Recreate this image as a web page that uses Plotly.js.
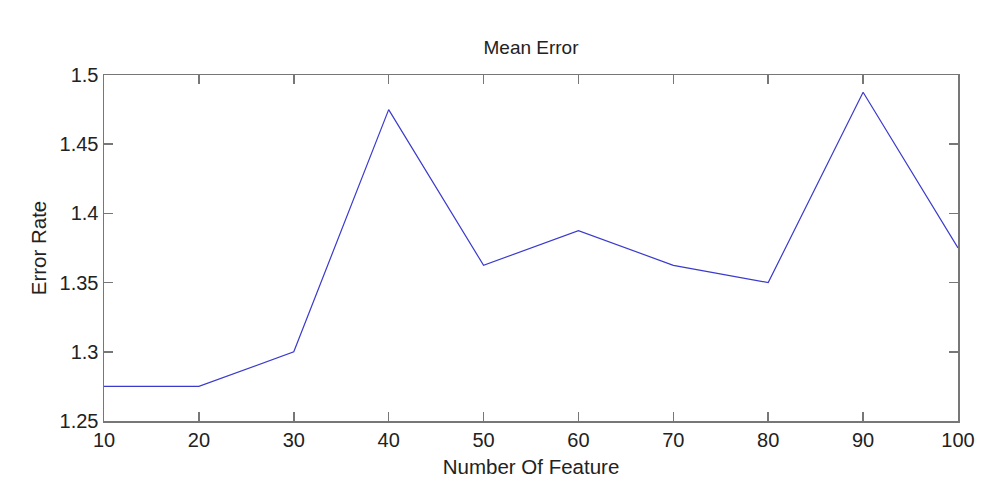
<!DOCTYPE html>
<html>
<head>
<meta charset="utf-8">
<script src="https://cdn.plot.ly/plotly-3.0.1.min.js"></script>
<style>html,body{margin:0;padding:0;background:#fff;}#chart{width:987px;height:502px;}</style>
</head>
<body>
<div id="chart"></div>
<script>
const numFeatures = [10, 20, 30, 40, 50, 60, 70, 80, 90, 100];
const errorRate = [1.275, 1.275, 1.30, 1.475, 1.3625, 1.3875, 1.3625, 1.35, 1.4875, 1.375];
const yTicks = [1.25, 1.3, 1.35, 1.4, 1.45, 1.5];
const yTickText = ['1.25', '1.3', '1.35', '1.4', '1.45', '1.5'];

const fam = 'Liberation Sans, Arial, sans-serif';
const titleFont = {family: fam, size: 19, color: '#222'};
const tickFont = {family: fam, size: 20, color: '#222'};
const axisTitleFont = {family: fam, size: 20.5, color: '#222'};

Plotly.newPlot('chart', [{
  x: numFeatures,
  y: errorRate,
  type: 'scatter',
  mode: 'lines',
  line: {color: '#3a3acc', width: 1.2},
  hoverinfo: 'none'
}], {
  width: 987, height: 502,
  margin: {l: 104, r: 29, t: 75, b: 81},
  paper_bgcolor: '#fff', plot_bgcolor: '#fff',
  font: titleFont,
  showlegend: false,
  title: {text: 'Mean Error', font: titleFont, x: 0.538, xanchor: 'center', y: 0.905, yanchor: 'middle'},
  xaxis: {
    range: [10, 100], tickvals: numFeatures, ticktext: numFeatures.map(String),
    ticks: 'inside', ticklen: 9, tickcolor: '#777', tickwidth: 1.5,
    showline: true, linecolor: '#777', linewidth: 1.5, mirror: 'ticks',
    showgrid: false, zeroline: false,
    tickfont: tickFont,
    title: {text: 'Number Of Feature', font: axisTitleFont, standoff: 10}
  },
  yaxis: {
    range: [1.25, 1.5], tickvals: yTicks, ticktext: yTickText,
    ticks: 'inside', ticklen: 9, tickcolor: '#777', tickwidth: 1.5,
    showline: true, linecolor: '#777', linewidth: 1.5, mirror: 'ticks',
    showgrid: false, zeroline: false,
    tickfont: tickFont,
    title: {text: 'Error Rate', font: axisTitleFont, standoff: 7}
  }
}, {staticPlot: true});
</script>
</body>
</html>
